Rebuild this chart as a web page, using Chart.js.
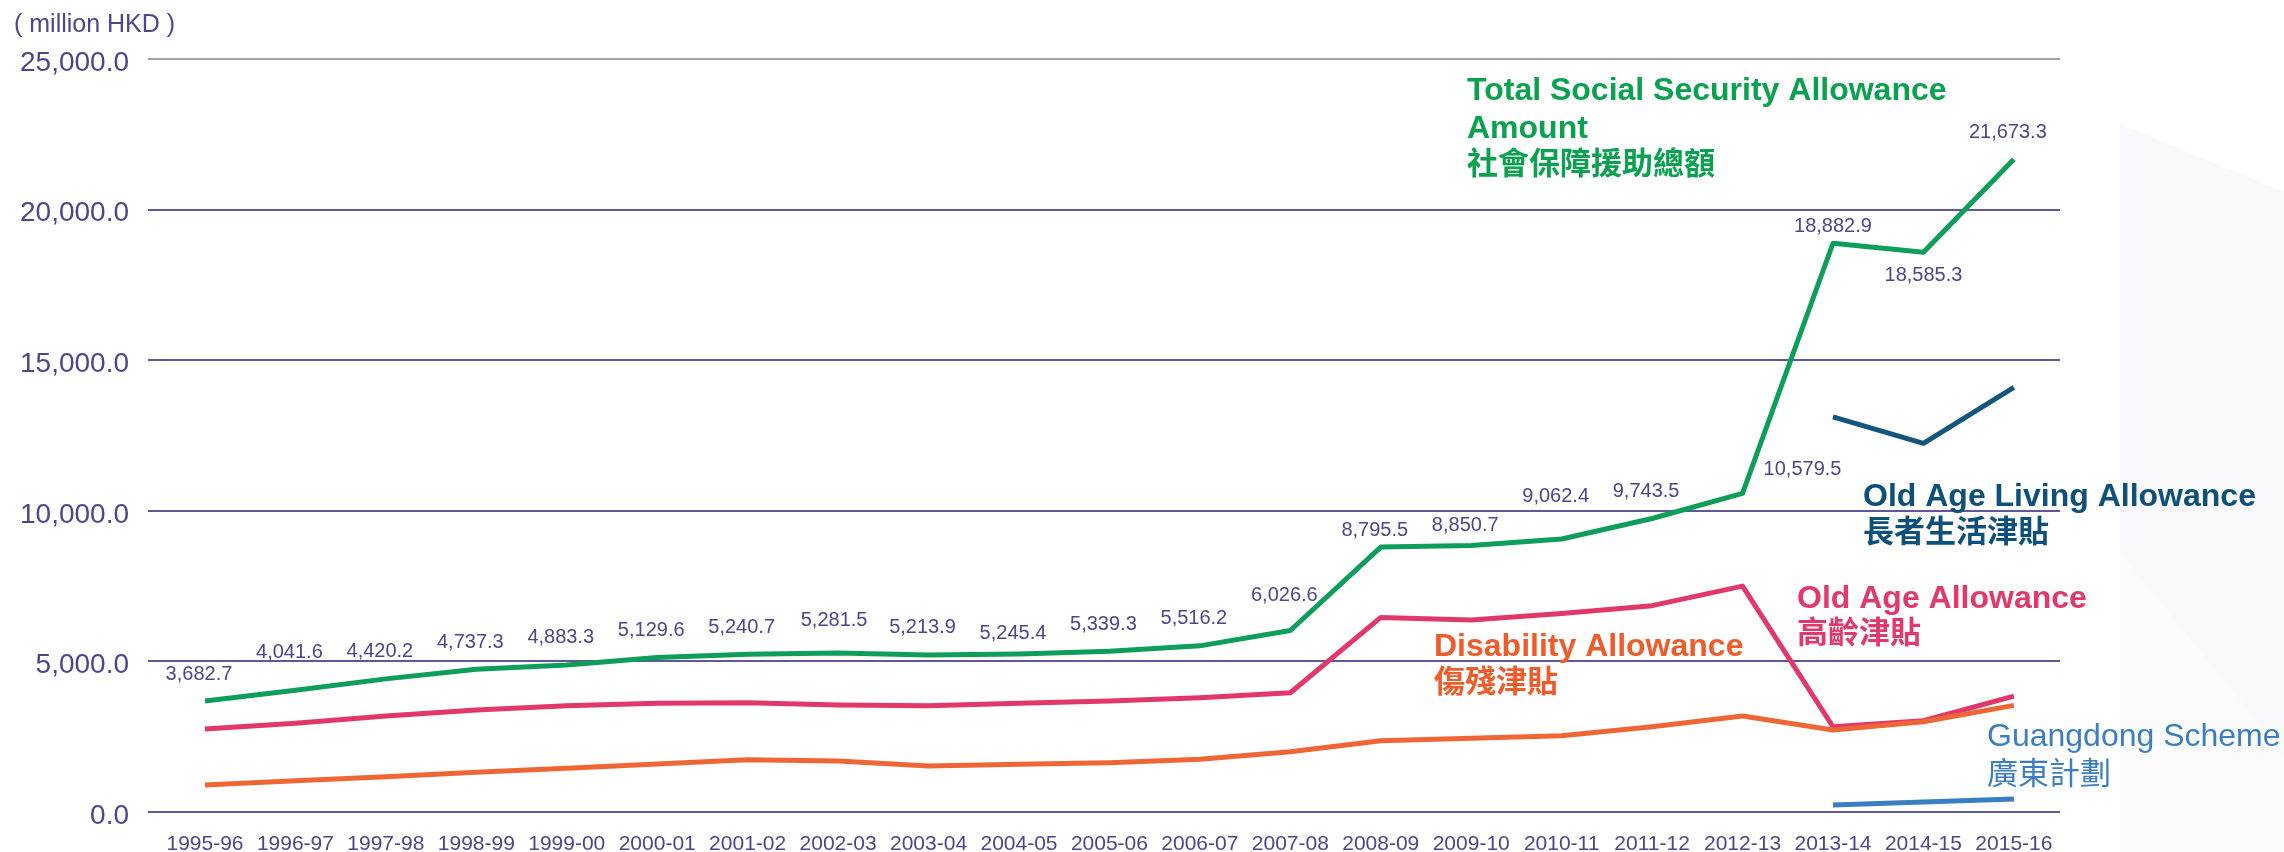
<!DOCTYPE html>
<html>
<head>
<meta charset="utf-8">
<script src="https://cdn.jsdelivr.net/npm/chart.js@4.4.1/dist/chart.umd.min.js"></script>
<style>
  html, body { margin: 0; padding: 0; background: #fff; overflow: hidden; }
  #wrap { position: relative; width: 2284px; height: 852px; }
  /* faint faceted backdrop on the right edge */
  .facet { position: absolute; left: 2120px; top: 0; width: 164px; height: 852px; }
  .facet.a { background: #f9f9fb; clip-path: polygon(0 124px, 164px 192px, 164px 755px, 0 553px); }
  .facet.b { background: #fbfbfc; clip-path: polygon(0 553px, 164px 755px, 164px 852px, 0 852px); }
  canvas { position: absolute; left: 0; top: 0; }
</style>
</head>
<body>
<div id="wrap">
  <div class="facet a"></div>
  <div class="facet b"></div>
  <canvas id="chart" width="2284" height="852"></canvas>
</div>
<script>
// Social security allowance spending, million HKD, by financial year.
const years = [
  '1995-96', '1996-97', '1997-98', '1998-99', '1999-00', '2000-01', '2001-02',
  '2002-03', '2003-04', '2004-05', '2005-06', '2006-07', '2007-08', '2008-09',
  '2009-10', '2010-11', '2011-12', '2012-13', '2013-14', '2014-15', '2015-16',
];
const totalAmount = [
  3682.7, 4041.6, 4420.2, 4737.3, 4883.3, 5129.6, 5240.7, 5281.5, 5213.9, 5245.4,
  5339.3, 5516.2, 6026.6, 8795.5, 8850.7, 9062.4, 9743.5, 10579.5, 18882.9, 18585.3, 21673.3,
];
const oldAgeAllowance = [
  2755, 2950, 3190, 3390, 3530, 3610, 3630, 3550, 3530, 3610,
  3685, 3795, 3960, 6460, 6375, 6590, 6850, 7500, 2830, 3030, 3850,
];
const disabilityAllowance = [
  896, 1040, 1172, 1317, 1450, 1593, 1735, 1690, 1527, 1583,
  1637, 1750, 2000, 2367, 2446, 2533, 2832, 3187, 2722, 2998, 3540,
];
const oldAgeLivingAllowance = [
  null, null, null, null, null, null, null, null, null, null,
  null, null, null, null, null, null, null, null, 13120, 12240, 14100,
];
const guangdongScheme = [
  null, null, null, null, null, null, null, null, null, null,
  null, null, null, null, null, null, null, null, 230, 330, 435,
];
const yTicks = [0, 5000, 10000, 15000, 20000, 25000];

const PURPLE = '#51448e';
const GRID = '#5f5798';
const SANS = '"Liberation Sans", Arial, sans-serif';
const CJK = '"Noto Sans CJK TC", "Noto Sans CJK SC", sans-serif';

const fmt1 = (v) => v.toLocaleString('en-US', { minimumFractionDigits: 1, maximumFractionDigits: 1 });
// linear x axis -> feed {x: index, y} pairs, dropping years with no value
const pts = (arr) => arr.map((y, x) => ({ x, y })).filter((p) => p.y != null);

// Value labels sit above each point of the total line; a few are nudged
// where the original artwork moved them off the line.
const totalLabelNudge = {
  1: [0, -11], 7: [2, -5], 9: [0, 6], 12: [0, -8], 13: [0, 10], 14: [0, 7],
  15: [0, -16], 17: [66, 3], 18: [6, 10], 19: [6, 50],
};
const valueLabels = {
  id: 'valueLabels',
  afterDatasetsDraw(chart) {
    const meta = chart.getDatasetMeta(chart.data.datasets.length - 1);
    const { ctx } = chart;
    ctx.save();
    ctx.fillStyle = PURPLE;
    ctx.font = '20px ' + SANS;
    ctx.textAlign = 'center';
    ctx.textBaseline = 'middle';
    meta.data.forEach((pt, i) => {
      const [dx, dy] = totalLabelNudge[i] || [0, 0];
      ctx.fillText(fmt1(totalAmount[i]), pt.x - 6 + dx, pt.y - 27 + dy);
    });
    ctx.restore();
  },
};

// Series names printed next to their lines (the chart has no legend box).
const seriesNotes = [
  { color: '#0aa14f', x: 1467, lines: [['Total Social Security Allowance', 100], ['Amount', 138]], zh: ['社會保障援助總額', 174], bold: true },
  { color: '#0d5079', x: 1863, lines: [['Old Age Living Allowance', 506]], zh: ['長者生活津貼', 542], bold: true },
  { color: '#e2386b', x: 1797, lines: [['Old Age Allowance', 608]], zh: ['高齡津貼', 643], bold: true },
  { color: '#ee5c2c', x: 1434, lines: [['Disability Allowance', 656]], zh: ['傷殘津貼', 692], bold: true },
  { color: '#3b7fc2', x: 1987, lines: [['Guangdong Scheme', 746]], zh: ['廣東計劃', 784], bold: false },
];
const notes = {
  id: 'notes',
  afterDraw(chart) {
    const { ctx } = chart;
    ctx.save();
    ctx.textAlign = 'left';
    ctx.textBaseline = 'alphabetic';
    for (const n of seriesNotes) {
      ctx.fillStyle = n.color;
      ctx.font = (n.bold ? 'bold ' : '') + '32px ' + SANS;
      for (const [t, y] of n.lines) ctx.fillText(t, n.x, y);
      ctx.font = (n.bold ? 'bold ' : '') + '31px ' + CJK;
      ctx.fillText(n.zh[0], n.x, n.zh[1]);
    }
    ctx.fillStyle = PURPLE;
    ctx.font = '25px ' + SANS;
    ctx.fillText('( million HKD )', 14, 32);
    ctx.restore();
  },
};

const line = (label, data, color) => ({
  label, data: pts(data), borderColor: color, backgroundColor: color,
  borderWidth: 5, pointRadius: 0, tension: 0, borderJoinStyle: 'round', spanGaps: false,
});

new Chart(document.getElementById('chart'), {
  type: 'line',
  data: {
    datasets: [
      line('Guangdong Scheme', guangdongScheme, '#3a7ec2'),
      line('Disability Allowance', disabilityAllowance, '#ef6636'),
      line('Old Age Allowance', oldAgeAllowance, '#e2376a'),
      line('Old Age Living Allowance', oldAgeLivingAllowance, '#14557e'),
      line('Total Social Security Allowance Amount', totalAmount, '#0e9e5a'),
    ],
  },
  options: {
    responsive: false,
    animation: false,
    layout: { padding: { top: 59, right: 224, left: 0, bottom: 0 } },
    plugins: { legend: { display: false }, tooltip: { enabled: false } },
    scales: {
      x: {
        type: 'linear',
        min: -0.63,
        max: 20.51,
        afterBuildTicks: (s) => { s.ticks = years.map((_, i) => ({ value: i })); },
        afterFit: (s) => { s.height = 40; },
        grid: { display: false, drawTicks: false },
        border: { display: false },
        ticks: {
          autoSkip: false, maxRotation: 0, padding: 20,
          color: PURPLE, font: { family: SANS, size: 21 },
          callback: (v) => years[v],
        },
      },
      y: {
        min: 0,
        max: 25000,
        afterBuildTicks: (s) => { s.ticks = yTicks.map((value) => ({ value })); },
        afterFit: (s) => { s.width = 148; },
        grid: {
          drawTicks: false, lineWidth: 2,
          color: (c) => (c.tick && c.tick.value === 25000 ? '#a4a4a8' : GRID),
        },
        border: { display: false },
        ticks: {
          padding: 19, labelOffset: 4,
          color: PURPLE, font: { family: SANS, size: 28 },
          callback: (v) => fmt1(v),
        },
      },
    },
  },
  plugins: [valueLabels, notes],
});
</script>
</body>
</html>
